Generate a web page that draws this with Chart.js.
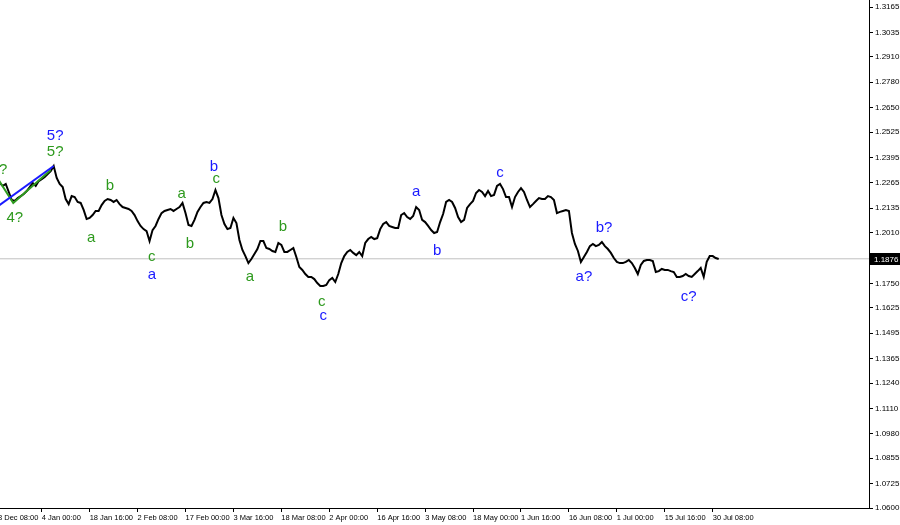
<!DOCTYPE html>
<html>
<head>
<meta charset="utf-8">
<script src="https://cdn.jsdelivr.net/npm/chart.js@4.4.1/dist/chart.umd.min.js"></script>
<style>
  html, body { margin: 0; padding: 0; background: #fff; }
  canvas { display: block; }
</style>
</head>
<body>
<canvas id="g1" width="900" height="525"></canvas>
<script>
// x axis: 4H bars, bar 0 = 4 Jan 00:00
var xTickBars = [-64, 0, 64, 128, 192, 256, 320, 384, 448, 512, 576, 640, 704, 768, 832, 896];
var xLabels = ['18 Dec 08:00', '4 Jan 00:00', '18 Jan 16:00', '2 Feb 08:00', '17 Feb 00:00', '3 Mar 16:00',
    '18 Mar 08:00', '2 Apr 00:00', '16 Apr 16:00', '3 May 08:00', '18 May 00:00', '1 Jun 16:00',
    '16 Jun 08:00', '1 Jul 00:00', '15 Jul 16:00', '30 Jul 08:00'];

var yTicks = [1.3165, 1.3035, 1.2910, 1.2780, 1.2650, 1.2525, 1.2395, 1.2265, 1.2135, 1.2010,
    1.1750, 1.1625, 1.1495, 1.1365, 1.1240, 1.1110, 1.0980, 1.0855, 1.0725, 1.0600];

var lastPrice = 1.1876;

// price samples, one every 4 bars starting at bar -56
var barStart = -56;
var barStep = 4;
var prices = [
    1.2264, 1.2249, 1.2259, 1.2218, 1.2177, 1.2172, 1.2187, 1.2197, 1.2208, 1.2223,
    1.2243, 1.2264, 1.2249, 1.2274, 1.2284, 1.2295, 1.2310, 1.2325, 1.2351, 1.2290,
    1.2259, 1.2243, 1.2182, 1.2156, 1.2197, 1.2192, 1.2167, 1.2162, 1.2126, 1.2080,
    1.2085, 1.2100, 1.2121, 1.2121, 1.2151, 1.2172, 1.2182, 1.2177, 1.2167, 1.2177,
    1.2156, 1.2141, 1.2136, 1.2131, 1.2121, 1.2100, 1.2069, 1.2044, 1.2028, 1.2018,
    1.1967, 1.2023, 1.2044, 1.2080, 1.2110, 1.2121, 1.2126, 1.2131, 1.2121, 1.2131,
    1.2141, 1.2162, 1.2110, 1.2049, 1.2044, 1.2075, 1.2116, 1.2141, 1.2162, 1.2167,
    1.2162, 1.2182, 1.2228, 1.2187, 1.2100, 1.2054, 1.2028, 1.2034, 1.2085, 1.2059,
    1.1972, 1.1921, 1.1890, 1.1854, 1.1875, 1.1900, 1.1926, 1.1967, 1.1967, 1.1931,
    1.1926, 1.1916, 1.1911, 1.1957, 1.1947, 1.1911, 1.1911, 1.1921, 1.1931, 1.1885,
    1.1834, 1.1819, 1.1798, 1.1783, 1.1783, 1.1772, 1.1752, 1.1737, 1.1737, 1.1742,
    1.1767, 1.1778, 1.1757, 1.1798, 1.1854, 1.1890, 1.1911, 1.1921, 1.1906, 1.1895,
    1.1911, 1.1890, 1.1957, 1.1977, 1.1988, 1.1977, 1.1982, 1.2028, 1.2054, 1.2064,
    1.2044, 1.2039, 1.2034, 1.2034, 1.2100, 1.2110, 1.2090, 1.2080, 1.2095, 1.2141,
    1.2126, 1.2075, 1.2064, 1.2044, 1.2023, 1.2008, 1.2013, 1.2064, 1.2105, 1.2167,
    1.2177, 1.2167, 1.2136, 1.2090, 1.2064, 1.2075, 1.2136, 1.2156, 1.2172, 1.2213,
    1.2228, 1.2218, 1.2197, 1.2223, 1.2197, 1.2203, 1.2249, 1.2259, 1.2233, 1.2192,
    1.2192, 1.2141, 1.2192, 1.2218, 1.2238, 1.2218, 1.2177, 1.2141, 1.2156, 1.2172,
    1.2187, 1.2182, 1.2182, 1.2197, 1.2192, 1.2177, 1.2110, 1.2116, 1.2121, 1.2126,
    1.2121, 1.2008, 1.1952, 1.1916, 1.1860, 1.1885, 1.1911, 1.1941, 1.1952, 1.1941,
    1.1947, 1.1962, 1.1941, 1.1926, 1.1906, 1.1880, 1.1860, 1.1854, 1.1854, 1.1860,
    1.1870, 1.1854, 1.1829, 1.1798, 1.1844, 1.1865, 1.1870, 1.1870, 1.1865, 1.1808,
    1.1813, 1.1824, 1.1819, 1.1819, 1.1813, 1.1808, 1.1783, 1.1783, 1.1788, 1.1798,
    1.1788, 1.1783, 1.1798, 1.1813, 1.1829, 1.1783, 1.1860, 1.1890, 1.1890, 1.1880,
    1.1875
];

// wave marks
var waveText  = ['3?', '4?', '5?', '5?', 'a', 'b', 'c', 'a', 'a', 'b', 'b', 'c', 'a', 'b', 'c', 'c',
    'a', 'b', 'c', 'a?', 'b?', 'c?'];
var waveBar   = [-57, -36, 18, 18, 66, 91, 147, 147, 187, 198, 230, 233, 278, 322, 374, 376,
    500, 528, 612, 724, 751, 864];
var wavePrice = [1.2331, 1.2085, 1.2505, 1.2423, 1.1982, 1.2249, 1.1885, 1.1793, 1.2208, 1.1952,
    1.2346, 1.2284, 1.1783, 1.2039, 1.1655, 1.1583, 1.2218, 1.1916, 1.2315, 1.1783, 1.2034, 1.1680];
var waveColor = ['g', 'g', 'b', 'g', 'g', 'g', 'g', 'b', 'g', 'g', 'b', 'g', 'g', 'g', 'g', 'b',
    'b', 'b', 'b', 'b', 'b', 'b'];

var blueLineBars = [-69, 16];
var blueLinePrices = [1.2116, 1.2351];
var greenLineBars = [-61, -38, 12];
var greenLinePrices = [1.2300, 1.2162, 1.2331];

var BLUE = '#1a1aff', GREEN = '#2e9a1e';

var priceData = prices.map(function(p, i) {
    return {x: barStart + i * barStep, y: p};
});
function pairs(xs, ys) {
    return xs.map(function(x, i) { return {x: x, y: ys[i]}; });
}
// no extra room for edge labels, MT4 lets them run off
function noPad(s) {
    s.paddingLeft = 0; s.paddingRight = 0; s.paddingTop = 0; s.paddingBottom = 0;
}

var marks = {
    id: 'marks',
    afterDraw: function(chart) {
        var c = chart.ctx, xs = chart.scales.x, ys = chart.scales.y;
        c.save();
        c.textAlign = 'center';
        c.textBaseline = 'middle';
        c.font = '15px "Liberation Sans", Arial, sans-serif';
        for (var i = 0; i < waveText.length; i++) {
            c.fillStyle = waveColor[i] == 'b' ? BLUE : GREEN;
            c.fillText(waveText[i], xs.getPixelForValue(waveBar[i]), ys.getPixelForValue(wavePrice[i]));
        }
        // current price box
        var py = Math.round(ys.getPixelForValue(lastPrice));
        c.fillStyle = '#000';
        c.fillRect(chart.chartArea.right + 1, py - 6, 31, 12);
        c.fillStyle = '#fff';
        c.textAlign = 'left';
        c.font = '8px "Liberation Sans", Arial, sans-serif';
        c.fillText(lastPrice.toFixed(4), chart.chartArea.right + 5, py + 0.5);
        c.restore();
    }
};

var ctx = document.getElementById('g1');
var myChart = new Chart(ctx, {
    type: 'line',
    data: {
        datasets: [{
            data: priceData,
            borderColor: '#000',
            borderWidth: 2,
            pointRadius: 0,
            tension: 0,
            order: 2
        }, {
            data: [{x: -56, y: lastPrice}, {x: 1105, y: lastPrice}],
            borderColor: '#c0c0c0',
            borderWidth: 1,
            pointRadius: 0,
            order: 3
        }, {
            data: pairs(blueLineBars, blueLinePrices),
            borderColor: BLUE,
            borderWidth: 2,
            pointRadius: 0,
            order: 0
        }, {
            data: pairs(greenLineBars, greenLinePrices),
            borderColor: GREEN,
            borderWidth: 2,
            pointRadius: 0,
            order: 1
        }]
    },
    plugins: [marks],
    options: {
        responsive: false,
        animation: false,
        devicePixelRatio: 1,
        layout: {padding: 0},
        plugins: {
            legend: {display: false},
            tooltip: {enabled: false}
        },
        scales: {
            x: {
                type: 'linear',
                min: -55.7,
                max: 1104.7,
                afterBuildTicks: function(s) {
                    s.ticks = xTickBars.map(function(v) { return {value: v}; });
                },
                afterFit: function(s) { s.height = 17; noPad(s); },
                grid: {drawOnChartArea: false, drawTicks: true, tickLength: 4, color: '#000'},
                border: {display: true, color: '#000'},
                ticks: {
                    align: 'start',
                    autoSkip: false,
                    maxRotation: 0,
                    padding: 1,
                    color: '#000',
                    font: {family: '"Liberation Sans", Arial, sans-serif', size: 7.5},
                    callback: function(v) {
                        var k = xTickBars.indexOf(v);
                        return k >= 0 ? xLabels[k] : '';
                    }
                }
            },
            y: {
                type: 'linear',
                position: 'right',
                min: 1.0600,
                max: 1.3201,
                afterBuildTicks: function(s) {
                    s.ticks = yTicks.map(function(v) { return {value: v}; });
                },
                afterFit: function(s) { s.width = 31; noPad(s); },
                grid: {drawOnChartArea: false, drawTicks: true, tickLength: 4, color: '#000'},
                border: {display: true, color: '#000'},
                ticks: {
                    padding: 2,
                    color: '#000',
                    font: {family: '"Liberation Sans", Arial, sans-serif', size: 8},
                    callback: function(v) { return v.toFixed(4); }
                }
            }
        }
    }
});
</script>
</body>
</html>
